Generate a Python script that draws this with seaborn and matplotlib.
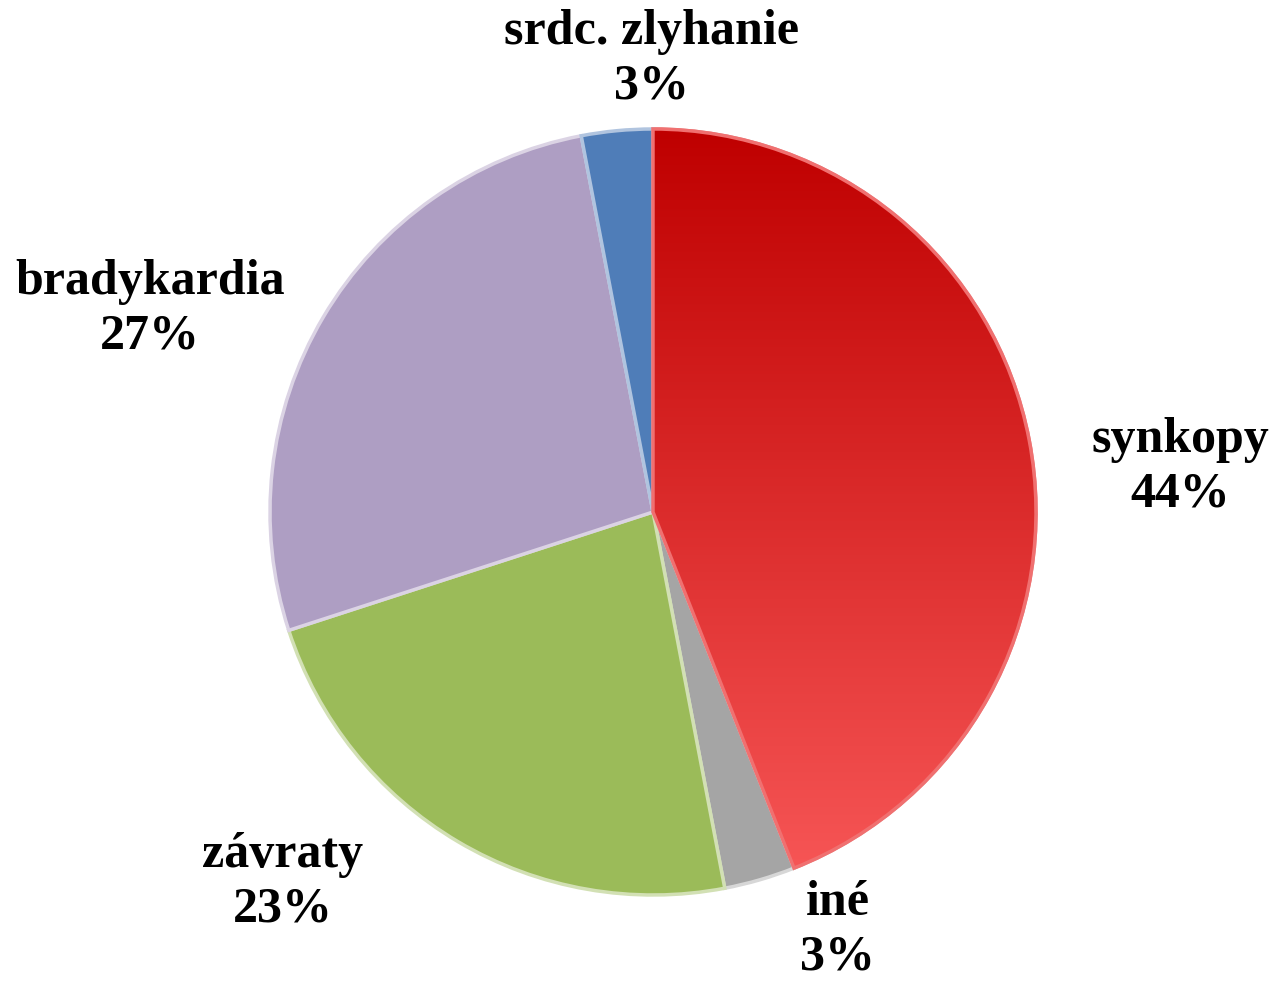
import numpy as np
import matplotlib
matplotlib.use("Agg")
from matplotlib import pyplot as plt
from matplotlib.colors import LinearSegmentedColormap, to_rgb
from matplotlib.patches import PathPatch
import seaborn as sns

# slices, clockwise from 12 o'clock
labels = ["synkopy", "iné", "závraty", "bradykardia", "srdc. zlyhanie"]
shares = [44, 3, 23, 27, 3]
colors = ["#c00000", "#a5a5a5", "#9bbb59", "#ae9ec3", "#4f7db8"]


def lighter(c, f=0.55):
    r, g, b = to_rgb(c)
    return (r + (1 - r) * f, g + (1 - g) * f, b + (1 - b) * f)


def main():
    sns.set_style("white")
    plt.rcParams['font.family'] = ['Liberation Serif', 'DejaVu Serif']

    fig = plt.figure(figsize=(12.78, 9.82), dpi=100)
    ax = fig.add_axes([0, 0, 1, 1])

    cx, cy, r = 653, 470, 383
    wedges, _ = ax.pie(shares, colors=colors, startangle=90, counterclock=False,
                       center=(cx, cy), radius=r, frame=True,
                       wedgeprops=dict(linewidth=2.5))
    for w, c in zip(wedges, colors):
        w.set_edgecolor(lighter(c))

    # vertical gradient on the red slice
    red = LinearSegmentedColormap.from_list("red", ["#f85858", "#bf0000"])
    grad = np.linspace(0, 1, 256).reshape(-1, 1)
    im = ax.imshow(grad, cmap=red, origin="lower", aspect="auto",
                   extent=(cx - r, cx + r, cy - r, cy + r), zorder=wedges[0].get_zorder() + 0.1)
    im.set_clip_path(wedges[0])
    ax.add_patch(PathPatch(wedges[0].get_path(), fill=False, edgecolor="#f07070",
                           linewidth=2.5, zorder=im.get_zorder() + 0.1))

    ax.set_xlim(0, 1278)
    ax.set_ylim(0, 982)
    ax.set_aspect("equal")
    ax.axis("off")

    label_pos = [(1180, 515), (838, 52), (283, 100), (150, 673), (652, 923)]
    for name, val, (x, y) in zip(labels, shares, label_pos):
        ax.text(x, y, f"{name}\n{val}%", ha="center", va="center", fontsize=36,
                fontweight="bold", color="black", linespacing=1.25)

    fig.savefig("out.png", dpi=100)


if __name__ == '__main__':
    main()
